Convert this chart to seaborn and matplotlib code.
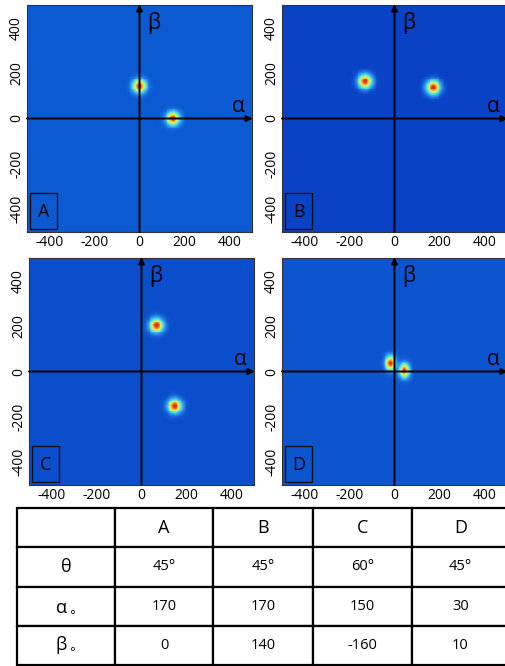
import numpy as np
import matplotlib
matplotlib.use("Agg")
import matplotlib.pyplot as plt
import seaborn as sns
from matplotlib.colors import LinearSegmentedColormap
from matplotlib.patches import Rectangle

# parameters listed in the table
panels = ["A", "B", "C", "D"]
theta_deg = [45, 45, 60, 45]
alpha0 = [170, 170, 150, 30]
beta0 = [0, 140, -160, 10]

# spot centres
spot_alpha = [[0, 149], [-130, 173], [67, 148], [-18, 44]]
spot_beta = [[143, 0], [164, 137], [203, -152], [37, 4]]
spot_sig_a = [20, 20, 20, 15]
spot_sig_b = [20, 20, 20, 21]

bg_colors = ["#0b5ad2", "#0a42c6", "#0b4ecb", "#0c55cf"]
ticks = [-400, -200, 0, 200, 400]

lim = 500
step = 4
centres = np.arange(-lim, lim, step) + step / 2

sns.set_style("white")
plt.rcParams["font.family"] = ["Open Sans", "DejaVu Sans"]
plt.rcParams["text.color"] = "black"
plt.rcParams["xtick.color"] = "black"
plt.rcParams["ytick.color"] = "black"
plt.rcParams["xtick.direction"] = "in"
plt.rcParams["ytick.direction"] = "in"


def idx(v):
    return (v + lim) / step


fig = plt.figure(figsize=(5.06, 6.66), dpi=100)

positions = [
    [27 / 506, 1 - 232 / 666, 225 / 506, 227 / 666],
    [282 / 506, 1 - 232 / 666, 225 / 506, 227 / 666],
    [29 / 506, 1 - 485 / 666, 225 / 506, 227 / 666],
    [282 / 506, 1 - 485 / 666, 225 / 506, 227 / 666],
]

A, B = np.meshgrid(centres, centres)

for k, name in enumerate(panels):
    ax = fig.add_axes(positions[k])
    Z = np.zeros_like(A)
    for a, b in zip(spot_alpha[k], spot_beta[k]):
        Z += np.exp(-((A - a) ** 2) / (2 * spot_sig_a[k] ** 2)
                    - ((B - b) ** 2) / (2 * spot_sig_b[k] ** 2))
    cmap = LinearSegmentedColormap.from_list(
        "spot" + name,
        [(0.0, bg_colors[k]), (0.12, "#2a86e8"), (0.3, "#3fd8ee"),
         (0.5, "#a8f28c"), (0.66, "#f3e448"), (0.82, "#f3902f"),
         (1.0, "#d8262a")])
    sns.heatmap(Z, cmap=cmap, vmin=0, vmax=1, cbar=False,
                xticklabels=False, yticklabels=False, ax=ax, rasterized=True)
    ax.invert_yaxis()
    for s in ax.spines.values():
        s.set_visible(True)
        s.set_color("#333333")
        s.set_linewidth(0.8)

    ax.set_xticks([idx(t) for t in ticks])
    ax.set_xticklabels([str(t) for t in ticks], fontsize=10)
    ax.set_yticks([idx(t) for t in ticks])
    ax.set_yticklabels([str(t) for t in ticks], fontsize=10, rotation=90, va="center")
    ax.tick_params(length=3, width=0.6, color="#333333", pad=2,
                   bottom=True, left=True)

    # alpha / beta axes
    ax.annotate("", xy=(idx(503), idx(0)), xytext=(idx(-500), idx(0)),
                arrowprops=dict(arrowstyle="-|>", lw=1.4, color="black",
                                mutation_scale=9, shrinkA=0, shrinkB=0),
                annotation_clip=False)
    ax.annotate("", xy=(idx(0), idx(503)), xytext=(idx(0), idx(-500)),
                arrowprops=dict(arrowstyle="-|>", lw=1.4, color="black",
                                mutation_scale=9, shrinkA=0, shrinkB=0),
                annotation_clip=False)
    ax.text(idx(440), idx(55), "α", fontsize=15, ha="center", va="center")
    ax.text(idx(62), idx(420), "β", fontsize=15, ha="center", va="center")

    ax.add_patch(Rectangle((idx(-485), idx(-488)), 120 / step, 160 / step,
                           fill=False, ec="#111111", lw=1.0))
    ax.text(idx(-425), idx(-410), name, fontsize=13, ha="center", va="center")

# parameter table
tax = fig.add_axes([17 / 506, 1 / 666, 492 / 506, 157 / 666])
tax.axis("off")
header = [""] + panels
rows = [
    ["θ"] + [f"{t}°" for t in theta_deg],
    [r"α$_\circ$"] + [str(v) for v in alpha0],
    [r"β$_\circ$"] + [str(v) for v in beta0],
]
col_w = np.array([98, 98, 100, 99, 97], dtype=float)
table = tax.table(cellText=[header] + rows, cellLoc="center",
                  colWidths=list(col_w / col_w.sum()), bbox=[0, 0, 1, 1])
table.auto_set_font_size(False)
for (r, c), cell in table.get_celld().items():
    cell.set_linewidth(1.6)
    cell.set_edgecolor("black")
    if r == 0 or c == 0:
        cell.get_text().set_fontsize(13)
    else:
        cell.get_text().set_fontsize(10.5)

fig.savefig("out.png", dpi=100)
